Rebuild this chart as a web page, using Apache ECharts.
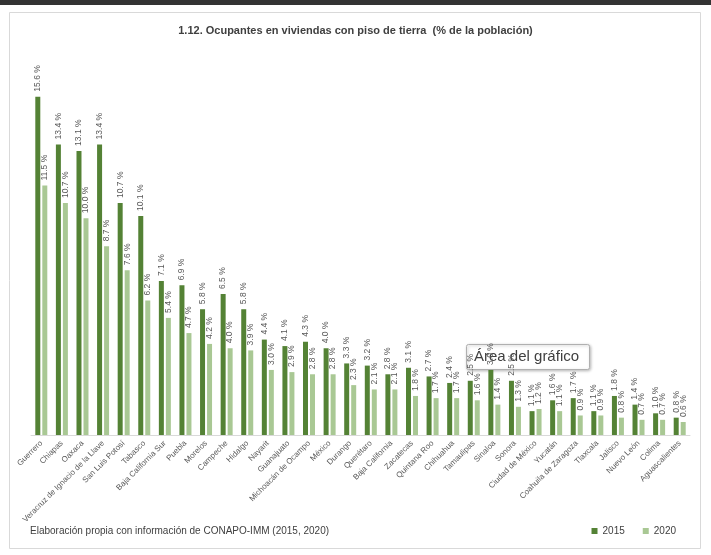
<!DOCTYPE html>
<html><head><meta charset="utf-8">
<script src="https://cdn.jsdelivr.net/npm/echarts@6/dist/echarts.min.js"></script>
<style>html,body{margin:0;padding:0;background:#fff}#c{width:711px;height:555px}</style>
</head><body><div id="c"></div>
<script>
const categories = ["Guerrero","Chiapas","Oaxaca","Veracruz de Ignacio de la Llave","San Luis Potosí","Tabasco","Baja California Sur","Puebla","Morelos","Campeche","Hidalgo","Nayarit","Guanajuato","Michoacán de Ocampo","México","Durango","Querétaro","Baja California","Zacatecas","Quintana Roo","Chihuahua","Tamaulipas","Sinaloa","Sonora","Ciudad de México","Yucatán","Coahuila de Zaragoza","Tlaxcala","Jalisco","Nuevo León","Colima","Aguascalientes"];
const values2015 = [15.6,13.4,13.1,13.4,10.7,10.1,7.1,6.9,5.8,6.5,5.8,4.4,4.1,4.3,4.0,3.3,3.2,2.8,3.1,2.7,2.4,2.5,3.0,2.5,1.1,1.6,1.7,1.1,1.8,1.4,1.0,0.8];
const values2020 = [11.5,10.7,10.0,8.7,7.6,6.2,5.4,4.7,4.2,4.0,3.9,3.0,2.9,2.8,2.8,2.3,2.1,2.1,1.8,1.7,1.7,1.6,1.4,1.3,1.2,1.1,0.9,0.9,0.8,0.7,0.7,0.6];
const seriesNames = ["2015","2020"];

const FONT = "'Liberation Sans', sans-serif";
const lbl = {
  show: true, position: 'top', rotate: 90, align: 'left', verticalAlign: 'middle',
  distance: 5, fontSize: 8.5, color: '#595959', fontFamily: FONT,
  formatter: p => p.value.toFixed(1) + ' %'
};
const chart = echarts.init(document.getElementById('c'), null, {renderer: 'canvas'});
chart.setOption({
  animation: false,
  backgroundColor: '#fff',
  title: {
    text: '1.12. Ocupantes en viviendas con piso de tierra  (% de la población)',
    left: 'center', top: 20,
    textStyle: {fontSize: 11, fontWeight: 'bold', color: '#404040', fontFamily: FONT}
  },
  legend: {
    data: seriesNames, right: 30, top: 521, icon: 'rect', itemWidth: 6, itemHeight: 6,
    itemGap: 18, textStyle: {fontSize: 10, color: '#404040', fontFamily: FONT}
  },
  grid: {left: 31, right: 21, top: 88, bottom: 120},
  xAxis: {
    type: 'category', data: categories,
    axisLine: {lineStyle: {color: '#d9d9d9'}},
    axisTick: {show: false},
    axisLabel: {rotate: 45, fontSize: 8, color: '#595959', interval: 0, margin: 7, fontFamily: FONT}
  },
  yAxis: {type: 'value', min: 0, max: 16, show: false, splitLine: {show: false}},
  series: [
    {name: seriesNames[0], type: 'bar', data: values2015, barWidth: 5, barGap: '40%',
     itemStyle: {color: '#548235'}, label: lbl},
    {name: seriesNames[1], type: 'bar', data: values2020, barWidth: 5,
     itemStyle: {color: '#A9C894'}, label: lbl}
  ],
  graphic: [
    {type: 'rect', shape: {x: 0, y: 0, width: 711, height: 5}, style: {fill: '#333333'}, z: 100},
    {type: 'rect', shape: {x: 9.5, y: 12.5, width: 691, height: 536}, style: {fill: 'none', stroke: '#d9d9d9', lineWidth: 1}, z: -1, silent: true},
    {type: 'text', left: 30, top: 526, style: {text: 'Elaboración propia con información de CONAPO-IMM (2015, 2020)', fontSize: 10, fill: '#404040', fontFamily: FONT}},
    {type: 'group', z: 100, children: [
      {type: 'rect', shape: {x: 466.5, y: 344.5, width: 123, height: 25, r: 2},
       style: {fill: '#fff', stroke: '#b0b0b0', lineWidth: 1, shadowBlur: 3, shadowColor: 'rgba(0,0,0,0.25)', shadowOffsetX: 1, shadowOffsetY: 1}},
      {type: 'text', x: 474, y: 357, style: {text: 'Área del gráfico', fontSize: 15, fill: '#404040', fontFamily: FONT, verticalAlign: 'middle'}}
    ]}
  ]
});
</script></body></html>
